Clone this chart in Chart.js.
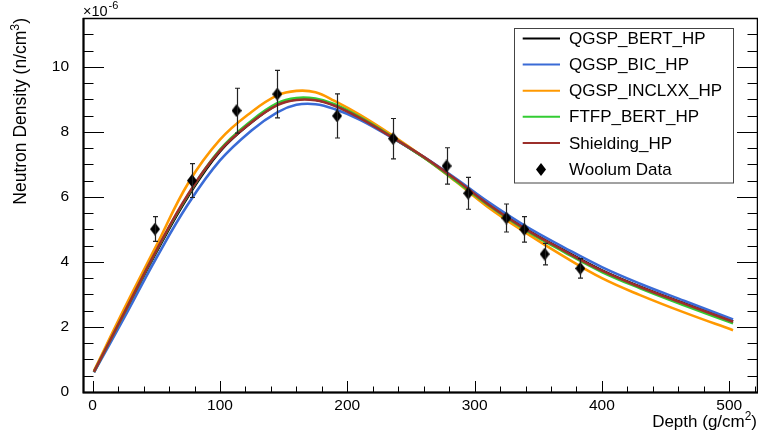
<!DOCTYPE html>
<html lang="en">
<head>
<meta charset="UTF-8" />
<title>Neutron Density vs Depth</title>
<script src="https://cdn.jsdelivr.net/npm/chart.js"></script>
<style>
  body { margin: 0; background: #fff; }
  #wrap { width: 758px; height: 437px; }
</style>
</head>
<body>
<div id="wrap"><canvas id="chart" width="758" height="437"></canvas></div>
<script>
// simulation curves, values in units of 1e-6 n/cm3
const depth = [1, 25, 50, 75, 100, 125, 145, 160, 175, 190, 210, 235, 260, 285, 310, 340, 370, 400, 430, 465, 503];
const qgspBert   = [0.62, 2.42, 4.30, 6.02, 7.40, 8.30, 8.84, 9.00, 8.99, 8.82, 8.43, 7.84, 7.22, 6.53, 5.80, 5.02, 4.36, 3.74, 3.24, 2.72, 2.17];
const qgspBic    = [0.60, 2.30, 4.12, 5.78, 7.12, 8.05, 8.60, 8.83, 8.85, 8.70, 8.37, 7.82, 7.23, 6.57, 5.86, 5.10, 4.45, 3.84, 3.33, 2.80, 2.23];
const qgspInclxx = [0.65, 2.58, 4.50, 6.42, 7.76, 8.62, 9.12, 9.26, 9.22, 8.95, 8.52, 7.90, 7.22, 6.48, 5.70, 4.90, 4.17, 3.50, 2.98, 2.44, 1.90];
const ftfpBert   = [0.62, 2.44, 4.34, 6.06, 7.45, 8.35, 8.88, 9.04, 9.02, 8.85, 8.45, 7.85, 7.21, 6.50, 5.77, 4.98, 4.31, 3.69, 3.19, 2.66, 2.11];
const shielding  = [0.62, 2.45, 4.35, 6.08, 7.42, 8.30, 8.82, 8.98, 8.97, 8.80, 8.42, 7.84, 7.23, 6.54, 5.79, 5.01, 4.35, 3.73, 3.23, 2.71, 2.16];

// Woolum measurements
const woolumDepth = [49, 78, 113, 145, 192, 236, 278, 295, 325, 339, 355, 383];
const woolumValue = [5.01, 6.50, 8.65, 9.16, 8.49, 7.79, 6.95, 6.11, 5.35, 5.00, 4.24, 3.80];
const woolumError = [0.38, 0.52, 0.69, 0.73, 0.68, 0.62, 0.56, 0.49, 0.43, 0.39, 0.33, 0.30];

const xTicks = [0, 100, 200, 300, 400, 500];
const yTicks = [0, 2, 4, 6, 8, 10];

const FONT = "'Liberation Sans', Arial, sans-serif";

function toPoints(ys) {
  return depth.map((d, i) => ({ x: d, y: ys[i] }));
}

// tall black diamond used for the data points and the legend
function diamond(w, h) {
  const c = document.createElement("canvas");
  c.width = w;
  c.height = h;
  const g = c.getContext("2d");
  g.beginPath();
  g.moveTo(w / 2, 0);
  g.lineTo(w, h / 2);
  g.lineTo(w / 2, h);
  g.lineTo(0, h / 2);
  g.closePath();
  g.fillStyle = "#000";
  g.fill();
  return c;
}
const diamondImg = diamond(10, 13);

const curves = [
  { label: "QGSP_BERT_HP", data: qgspBert, color: "#000000", order: 5 },
  { label: "QGSP_BIC_HP", data: qgspBic, color: "#3a6bd6", order: 4 },
  { label: "QGSP_INCLXX_HP", data: qgspInclxx, color: "#ff9900", order: 3 },
  { label: "FTFP_BERT_HP", data: ftfpBert, color: "#33cc33", order: 2 },
  { label: "Shielding_HP", data: shielding, color: "#9c2f2b", order: 1 },
];

const datasets = curves.map((c) => ({
  type: "line",
  label: c.label,
  data: toPoints(c.data),
  borderColor: c.color,
  borderWidth: 2.6,
  pointRadius: 0,
  fill: false,
  tension: 0.4,
  order: c.order,
}));

datasets.push({
  type: "scatter",
  label: "Woolum Data",
  data: woolumDepth.map((d, i) => ({ x: d, y: woolumValue[i] })),
  pointStyle: diamondImg,
  pointRadius: 6,
  order: 0,
});

// error bars, inward ticks, frame, titles and legend in ROOT style
const rootStyle = {
  id: "rootStyle",
  afterDatasetsDraw(chart) {
    const { ctx, scales: { x, y } } = chart;
    ctx.save();
    ctx.strokeStyle = "#222";
    ctx.lineWidth = 1.2;
    woolumDepth.forEach((d, i) => {
      const px = Math.round(x.getPixelForValue(d)) + 0.5;
      const top = y.getPixelForValue(woolumValue[i] + woolumError[i]);
      const bot = y.getPixelForValue(woolumValue[i] - woolumError[i]);
      ctx.beginPath();
      ctx.moveTo(px, top);
      ctx.lineTo(px, bot);
      ctx.moveTo(px - 2.5, top);
      ctx.lineTo(px + 2.5, top);
      ctx.moveTo(px - 2.5, bot);
      ctx.lineTo(px + 2.5, bot);
      ctx.stroke();
    });
    ctx.restore();
  },
  afterDraw(chart) {
    const { ctx, chartArea: a, scales: { x, y } } = chart;
    ctx.save();

    // ticks
    ctx.lineWidth = 1;
    ctx.strokeStyle = "#000";
    for (let v = 0; v <= x.max; v += 20) {
      const px = Math.round(x.getPixelForValue(v)) + 0.5;
      const len = v % 100 === 0 ? 11 : 5.5;
      ctx.beginPath();
      ctx.moveTo(px, a.bottom);
      ctx.lineTo(px, a.bottom - len);
      ctx.stroke();
    }
    for (let v = 0.5; v <= y.max; v += 0.5) {
      const py = Math.round(y.getPixelForValue(v)) + 0.5;
      const len = v % 2 === 0 ? 21 : 10.5;
      ctx.beginPath();
      ctx.moveTo(a.left, py);
      ctx.lineTo(a.left + len, py);
      ctx.moveTo(a.right, py);
      ctx.lineTo(a.right - len, py);
      ctx.stroke();
    }

    // frame
    ctx.lineWidth = 1.5;
    ctx.strokeRect(a.left + 0.5, a.top + 0.5, a.right - a.left - 1, a.bottom - a.top);
    ctx.lineWidth = 2;
    ctx.beginPath();
    ctx.moveTo(a.left + 0.5, a.top);
    ctx.lineTo(a.left + 0.5, a.bottom + 0.5);
    ctx.lineTo(a.right, a.bottom + 0.5);
    ctx.stroke();

    // exponent label
    ctx.fillStyle = "#000";
    ctx.textBaseline = "alphabetic";
    ctx.textAlign = "left";
    ctx.font = "14.5px " + FONT;
    ctx.fillText("\u00d710", a.left, 16);
    const w10 = ctx.measureText("\u00d710").width;
    ctx.font = "11px " + FONT;
    ctx.fillText("-6", a.left + w10 + 1, 9);

    // axis titles with superscripts
    function supText(parts, size) {
      let total = 0;
      parts.forEach((p) => {
        ctx.font = (p.sup ? size * 0.7 : size) + "px " + FONT;
        p.w = ctx.measureText(p.t).width;
        total += p.w;
      });
      return total;
    }
    function drawSup(parts, size, x0, base) {
      let cx = x0;
      parts.forEach((p) => {
        ctx.font = (p.sup ? size * 0.7 : size) + "px " + FONT;
        ctx.fillText(p.t, cx, p.sup ? base - size * 0.42 : base);
        cx += p.w;
      });
    }
    const xt = [{ t: "Depth (g/cm" }, { t: "2", sup: true }, { t: ")" }];
    const xw = supText(xt, 17);
    drawSup(xt, 17, a.right - xw - 1, 427);

    const yt = [{ t: "Neutron Density (n/cm" }, { t: "3", sup: true }, { t: ")" }];
    const yw = supText(yt, 17.5);
    ctx.save();
    ctx.translate(26, 18);
    ctx.rotate(-Math.PI / 2);
    drawSup(yt, 17.5, -yw, 0);
    ctx.restore();

    // legend box
    const bx = 514.5, by = 28.5, bw = 219, bh = 154.5;
    ctx.fillStyle = "#fff";
    ctx.fillRect(bx, by, bw, bh);
    ctx.lineWidth = 1;
    ctx.strokeStyle = "#444";
    ctx.strokeRect(bx, by, bw, bh);
    const rows = curves.map((c) => ({ label: c.label, color: c.color })).concat([{ label: "Woolum Data" }]);
    ctx.font = "17px " + FONT;
    ctx.textBaseline = "middle";
    rows.forEach((r, i) => {
      const cy = 38.5 + i * 26.1;
      if (r.color) {
        ctx.strokeStyle = r.color;
        ctx.lineWidth = 2;
        ctx.beginPath();
        ctx.moveTo(522.7, cy);
        ctx.lineTo(560, cy);
        ctx.stroke();
      } else {
        ctx.drawImage(diamondImg, 541 - 5, Math.round(cy - 6.5));
      }
      ctx.fillStyle = "#000";
      ctx.fillText(r.label, 569, cy + 1);
    });

    ctx.restore();
  },
};

new Chart(document.getElementById("chart"), {
  data: { datasets },
  options: {
    responsive: false,
    animation: false,
    events: [],
    layout: { autoPadding: false, padding: { top: 18, right: 0, left: 0, bottom: 0 } },
    plugins: { legend: { display: false }, tooltip: { enabled: false } },
    scales: {
      x: {
        type: "linear",
        min: -7.6,
        max: 522.6,
        grid: { display: false },
        border: { display: false },
        afterBuildTicks: (s) => { s.ticks = xTicks.map((v) => ({ value: v })); },
        afterFit: (s) => { s.height = 45; s.paddingLeft = 0; s.paddingRight = 0; },
        ticks: {
          autoSkip: false,
          maxRotation: 0,
          padding: -4,
          color: "#000",
          font: { family: FONT, size: 15.5 },
        },
      },
      y: {
        type: "linear",
        min: 0,
        max: 11.5,
        grid: { display: false },
        border: { display: false },
        afterBuildTicks: (s) => { s.ticks = yTicks.map((v) => ({ value: v })); },
        afterFit: (s) => { s.width = 83; s.paddingTop = 0; s.paddingBottom = 0; },
        ticks: {
          autoSkip: false,
          padding: 6,
          color: "#000",
          font: { family: FONT, size: 15.5 },
        },
      },
    },
  },
  plugins: [rootStyle],
});
</script>
</body>
</html>
